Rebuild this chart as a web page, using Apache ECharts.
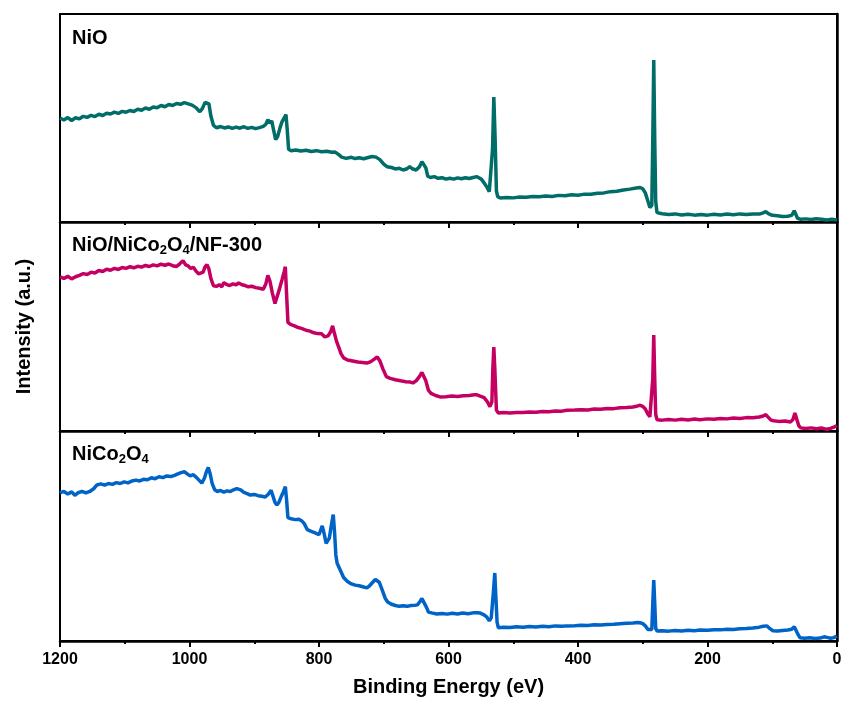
<!DOCTYPE html>
<html>
<head>
<meta charset="utf-8">
<script src="https://cdn.jsdelivr.net/npm/echarts@6/dist/echarts.min.js"></script>
<style>
  html, body { margin: 0; padding: 0; background: #fff; }
  #main { width: 842px; height: 702px; }
</style>
</head>
<body>
<div id="main"></div>
<script>
// binding energy (eV), intensity (a.u., 0-100 inside each panel)
var nioData = [
  [1200, 50.0], [1194, 49.0], [1188, 50.2], [1182, 48.8], [1176, 50.1], [1170, 49.6],
  [1164, 50.8], [1158, 50.3], [1152, 51.3], [1146, 50.7], [1140, 51.8], [1134, 51.2],
  [1128, 52.3], [1122, 51.9], [1116, 52.8], [1110, 52.2], [1104, 53.2], [1098, 52.8],
  [1092, 53.6], [1086, 53.1], [1080, 54.2], [1074, 53.7], [1068, 54.8], [1062, 54.2],
  [1056, 55.3], [1050, 54.9], [1044, 56.0], [1038, 55.4], [1032, 56.5], [1026, 56.0],
  [1020, 57.0], [1014, 56.6], [1008, 57.4], [1002, 56.8], [996, 56.2], [990, 55.0],
  [984, 53.0], [980, 54.6], [976, 57.5], [973, 58.2], [970, 56.8], [967, 51.0],
  [963, 46.5], [958, 45.3], [952, 45.9], [946, 45.2], [940, 45.7], [934, 45.0],
  [928, 45.6], [922, 45.1], [916, 45.8], [910, 45.0], [904, 45.5], [898, 44.9],
  [892, 45.4], [886, 46.0], [882, 47.0], [879, 49.2], [876, 47.5], [873, 48.6],
  [870, 44.0], [867, 39.6], [864, 41.0], [860, 45.5], [857, 48.3], [854, 49.0],
  [851, 51.6], [849, 44.0], [847, 35.0], [843, 34.3], [836, 34.6], [828, 34.1],
  [820, 34.5], [812, 33.9], [804, 34.3], [796, 33.8], [788, 34.0], [780, 33.5],
  [775, 33.6], [770, 32.5], [765, 31.2], [758, 30.6], [750, 31.1], [744, 30.5],
  [738, 30.9], [731, 30.4], [724, 31.0], [718, 31.5], [712, 31.2], [706, 30.0],
  [700, 27.8], [695, 26.6], [688, 26.2], [682, 25.5], [676, 25.8], [670, 25.0],
  [664, 25.6], [660, 26.6], [656, 25.6], [650, 25.0], [645, 26.5], [641, 29.0],
  [638, 29.0], [635, 26.0], [632, 22.0], [628, 21.4], [622, 21.8], [616, 21.0],
  [610, 21.3], [604, 20.6], [598, 21.0], [592, 20.6], [586, 21.2], [580, 20.8],
  [574, 21.3], [568, 20.9], [562, 21.4], [556, 21.8], [553, 22.4], [549, 20.5],
  [545, 18.8], [541, 17.0], [537, 14.6], [534, 15.5], [532, 35.0], [530, 60.1],
  [528, 40.0], [526, 15.0], [524, 12.2], [520, 11.5], [510, 11.8], [500, 11.6],
  [490, 12.0], [480, 11.9], [470, 12.3], [460, 12.1], [450, 12.5], [440, 12.3],
  [430, 12.8], [420, 12.6], [410, 13.1], [400, 12.9], [390, 13.4], [380, 13.3],
  [370, 13.8], [360, 14.0], [350, 14.6], [340, 14.8], [330, 15.4], [320, 15.8],
  [310, 16.3], [304, 16.6], [300, 16.0], [296, 14.0], [292, 10.0], [289, 7.0],
  [286, 8.0], [284.5, 40.0], [283, 77.9], [281.5, 40.0], [280, 10.0], [278, 4.5],
  [270, 4.0], [260, 3.6], [250, 3.9], [240, 3.4], [230, 3.7], [220, 3.3],
  [210, 3.6], [200, 3.3], [190, 3.7], [180, 3.4], [170, 3.8], [160, 3.5],
  [150, 3.9], [140, 3.6], [130, 3.9], [120, 3.8], [114, 4.4], [110, 5.0],
  [106, 4.0], [100, 3.2], [92, 3.0], [84, 2.6], [76, 2.8], [70, 3.2],
  [66, 5.4], [63, 4.5], [61, 1.8], [56, 1.3], [48, 1.5], [40, 1.2],
  [32, 1.6], [24, 1.3], [16, 1.0], [8, 1.3], [0, 1.0]
];
var compositeData = [
  [1200, 73.7], [1194, 73.0], [1188, 74.0], [1182, 72.8], [1176, 73.8], [1170, 74.5],
  [1164, 75.3], [1158, 74.9], [1152, 76.0], [1146, 75.6], [1140, 76.8], [1134, 76.3],
  [1128, 77.4], [1122, 76.9], [1116, 77.8], [1110, 77.3], [1104, 78.2], [1098, 77.8],
  [1092, 78.6], [1086, 78.1], [1080, 78.8], [1074, 78.4], [1068, 79.2], [1062, 78.7],
  [1056, 79.5], [1050, 79.0], [1044, 79.8], [1038, 79.3], [1032, 79.9], [1026, 79.1],
  [1020, 78.7], [1015, 80.0], [1010, 81.5], [1006, 79.5], [1002, 79.0], [998, 77.8],
  [994, 78.3], [990, 76.5], [986, 75.2], [983, 74.5], [979, 76.0], [976, 78.5],
  [973, 79.6], [970, 77.5], [967, 73.0], [963, 69.5], [958, 69.2], [954, 70.0],
  [950, 69.0], [947, 71.0], [943, 70.2], [938, 69.6], [933, 70.4], [928, 70.0],
  [924, 70.8], [919, 70.0], [914, 69.6], [909, 69.0], [904, 69.3], [898, 68.6],
  [892, 68.3], [886, 67.8], [882, 70.5], [879, 74.4], [876, 72.0], [872, 66.0],
  [868, 61.0], [865, 61.5], [861, 68.0], [857, 72.5], [854, 76.0], [852, 78.6],
  [850, 65.0], [848, 52.0], [844, 51.0], [838, 50.3], [832, 49.5], [826, 49.0],
  [820, 48.2], [814, 47.8], [808, 47.0], [802, 46.6], [796, 46.5], [791, 45.0],
  [786, 45.5], [782, 47.5], [779, 50.3], [776, 46.5], [773, 43.0], [770, 40.5],
  [766, 37.0], [762, 35.0], [756, 34.0], [748, 33.5], [740, 33.0], [733, 32.8],
  [726, 32.5], [720, 33.2], [714, 34.5], [710, 35.5], [706, 33.5], [701, 29.5],
  [696, 26.0], [690, 25.2], [682, 24.5], [674, 24.0], [666, 23.6], [659, 23.4],
  [655, 23.0], [650, 24.0], [645, 26.0], [641, 28.0], [638, 27.6], [635, 24.0],
  [631, 19.5], [627, 18.0], [620, 17.0], [613, 16.3], [604, 16.4], [595, 16.7],
  [586, 16.5], [577, 16.9], [568, 17.0], [560, 17.3], [556, 17.3], [550, 16.6],
  [545, 16.0], [540, 14.0], [536, 11.7], [533, 14.0], [531.5, 30.0], [530, 40.2],
  [528.5, 30.0], [526, 10.0], [523, 8.6], [515, 8.8], [505, 8.6], [495, 8.9],
  [485, 8.8], [475, 9.1], [465, 9.0], [455, 9.3], [445, 9.2], [435, 9.6],
  [425, 9.5], [417, 9.9], [405, 10.0], [395, 10.2], [385, 10.1], [375, 10.5],
  [365, 10.4], [355, 10.8], [345, 10.7], [335, 11.1], [325, 11.2], [315, 11.5],
  [308, 12.0], [304, 12.3], [300, 11.8], [296, 10.5], [292, 8.0], [289, 6.8],
  [286, 7.5], [284.5, 25.0], [283, 45.9], [281.5, 25.0], [280, 8.0], [278, 5.4],
  [270, 5.2], [260, 5.5], [250, 5.2], [240, 5.6], [230, 5.3], [220, 5.7],
  [212, 5.4], [200, 5.8], [190, 5.6], [180, 6.0], [170, 5.8], [160, 6.2],
  [150, 6.0], [140, 6.4], [130, 6.3], [120, 6.7], [114, 7.2], [110, 7.8],
  [106, 6.5], [102, 5.2], [98, 4.9], [90, 4.6], [80, 4.8], [72, 4.3],
  [68, 5.5], [65, 8.6], [62, 5.5], [59, 2.5], [56, 1.5], [48, 1.2],
  [40, 1.5], [32, 1.1], [24, 1.4], [16, 0.8], [10, 1.2], [5, 1.8], [0, 2.6]
];
var nicoData = [
  [1200, 70.5], [1194, 71.2], [1188, 70.0], [1182, 71.0], [1177, 69.4], [1172, 70.6],
  [1166, 71.3], [1160, 70.5], [1154, 71.2], [1148, 72.5], [1143, 74.3], [1137, 74.8],
  [1131, 74.2], [1125, 75.0], [1119, 74.6], [1113, 75.4], [1107, 75.0], [1101, 75.8],
  [1095, 75.3], [1089, 76.2], [1083, 76.6], [1077, 76.2], [1071, 77.0], [1065, 76.8],
  [1059, 77.7], [1053, 77.3], [1047, 78.2], [1041, 77.8], [1035, 78.6], [1029, 78.3],
  [1023, 78.9], [1018, 79.6], [1013, 80.2], [1008, 80.6], [1004, 79.7], [999, 78.6],
  [994, 79.2], [989, 77.8], [985, 76.5], [981, 75.2], [977, 77.5], [974, 80.5],
  [971, 82.6], [968, 79.5], [965, 75.0], [961, 72.0], [957, 71.2], [952, 71.7],
  [947, 70.9], [942, 71.5], [937, 71.2], [932, 72.0], [927, 72.6], [924, 73.0],
  [921, 72.0], [916, 70.8], [911, 70.2], [906, 69.5], [900, 69.8], [894, 69.2],
  [888, 68.9], [883, 68.6], [878, 70.0], [874, 71.8], [871, 71.0], [868, 66.0],
  [865, 64.8], [862, 66.0], [858, 69.0], [855, 71.0], [852, 73.5], [850, 67.0],
  [848, 58.8], [843, 58.2], [837, 57.8], [831, 58.0], [827, 57.3], [823, 56.0],
  [818, 53.0], [812, 52.2], [806, 51.5], [800, 50.6], [797, 51.5], [795, 54.8],
  [792, 51.0], [789, 46.5], [787, 45.8], [784, 49.0], [781, 55.0], [778, 60.2],
  [776, 52.0], [774, 41.0], [772, 37.0], [769, 35.0], [766, 33.0], [762, 30.2],
  [756, 28.3], [750, 27.2], [744, 26.6], [738, 26.3], [731, 25.7], [726, 25.3],
  [722, 26.3], [717, 28.0], [713, 29.3], [710, 30.1], [707, 28.0], [702, 24.0],
  [698, 20.5], [694, 18.6], [688, 17.5], [682, 16.9], [676, 16.5], [670, 16.8],
  [664, 16.5], [658, 16.9], [652, 17.0], [648, 17.2], [644, 18.8], [641, 20.2],
  [638, 19.5], [634, 16.0], [631, 13.8], [626, 13.4], [618, 12.9], [610, 13.1],
  [602, 12.8], [594, 13.2], [586, 12.9], [578, 13.3], [570, 13.0], [562, 13.4],
  [556, 13.5], [551, 13.3], [546, 12.6], [541, 11.5], [537, 9.6], [534, 11.0],
  [531, 22.0], [528.5, 32.4], [527, 22.0], [525, 9.0], [523, 6.3], [515, 6.6],
  [505, 6.4], [495, 6.8], [485, 6.6], [475, 6.9], [465, 6.7], [455, 7.0],
  [445, 6.8], [435, 7.2], [425, 7.0], [417, 7.2], [405, 7.3], [395, 7.5],
  [385, 7.4], [375, 7.7], [365, 7.6], [355, 7.9], [345, 8.0], [335, 8.2],
  [325, 8.4], [315, 8.6], [308, 8.8], [304, 8.7], [300, 8.3], [296, 7.2],
  [292, 5.5], [289, 4.8], [286, 5.5], [284.5, 18.0], [283, 29.0], [281.5, 18.0],
  [280, 6.0], [278, 4.8], [270, 4.9], [260, 4.7], [250, 5.0], [240, 4.8],
  [230, 5.1], [220, 4.9], [212, 5.2], [200, 5.1], [190, 5.4], [180, 5.3],
  [170, 5.6], [160, 5.5], [150, 5.8], [140, 5.9], [130, 6.2], [120, 6.6],
  [114, 7.0], [108, 7.2], [104, 6.0], [99, 4.9], [92, 4.8], [84, 5.0],
  [76, 5.2], [70, 5.6], [66, 6.8], [63, 6.2], [60, 3.0], [57, 1.5],
  [50, 1.3], [42, 1.5], [34, 1.2], [26, 1.4], [20, 2.0], [17, 2.4],
  [14, 1.6], [10, 1.3], [5, 1.6], [0, 2.4]
];
var panelNames = ['NiO', 'NiO/NiCo{sub|2}O{sub|4}/NF-300', 'NiCo{sub|2}O{sub|4}'];
var colors = ['#016d68', '#c40062', '#0063c8'];

var font = 'Liberation Sans, Arial, sans-serif';
var grids = [
  { left: 60, right: 5, top: 14, height: 208 },
  { left: 60, right: 5, top: 222, height: 209 },
  { left: 60, right: 5, top: 431, height: 210 }
];

var myChart = echarts.init(document.getElementById('main'));

var xAxes = [], yAxes = [], series = [], titles = [];
var allData = [nioData, compositeData, nicoData];
for (var i = 0; i < 3; i++) {
  grids[i].show = true;
  grids[i].borderColor = '#000';
  grids[i].borderWidth = 2;
  grids[i].outerBoundsMode = 'none';
  grids[i].containLabel = false;
  var last = i === 2;
  xAxes.push({
    type: 'value',
    gridIndex: i,
    min: 0,
    max: 1200,
    interval: 200,
    inverse: true,
    name: last ? 'Binding Energy (eV)' : '',
    nameLocation: 'middle',
    nameGap: 36,
    nameTextStyle: { fontFamily: font, fontWeight: 'bold', fontSize: 20, color: '#000' },
    axisLine: { lineStyle: { color: '#000', width: 2.5 } },
    axisTick: { show: true, length: 6, lineStyle: { color: '#000', width: 2 } },
    minorTick: { show: true, splitNumber: 2, length: 3, lineStyle: { color: '#000', width: 2 } },
    splitLine: { show: false },
    axisLabel: {
      show: last,
      margin: 11,
      fontFamily: font,
      fontWeight: 'bold',
      fontSize: 16,
      color: '#000',
      formatter: function (v) { return String(v); }
    }
  });
  yAxes.push({
    type: 'value',
    gridIndex: i,
    min: 0,
    max: 100,
    name: i === 1 ? 'Intensity (a.u.)' : '',
    nameLocation: 'middle',
    nameGap: 26,
    nameTextStyle: { fontFamily: font, fontWeight: 'bold', fontSize: 20, color: '#000' },
    axisLine: { show: true, lineStyle: { color: '#000', width: 2.5 } },
    axisTick: { show: false },
    axisLabel: { show: false },
    splitLine: { show: false }
  });
  series.push({
    type: 'line',
    xAxisIndex: i,
    yAxisIndex: i,
    data: allData[i],
    showSymbol: false,
    lineStyle: { color: colors[i], width: 3.5 },
    z: 3
  });
  titles.push({
    text: panelNames[i],
    left: 72,
    top: [26, 233, 442][i],
    padding: 0,
    textStyle: {
      fontFamily: font,
      fontWeight: 'bold',
      fontSize: 20,
      color: '#000',
      lineHeight: 24,
      rich: {
        sub: {
          fontFamily: font,
          fontWeight: 'bold',
          fontSize: 13,
          color: '#000',
          lineHeight: 13,
          padding: [12, 0, 0, 0],
          verticalAlign: 'bottom'
        }
      }
    }
  });
}

var option = {
  animation: false,
  backgroundColor: '#fff',
  title: titles,
  grid: grids,
  xAxis: xAxes,
  yAxis: yAxes,
  series: series
};

myChart.setOption(option);
</script>
</body>
</html>
